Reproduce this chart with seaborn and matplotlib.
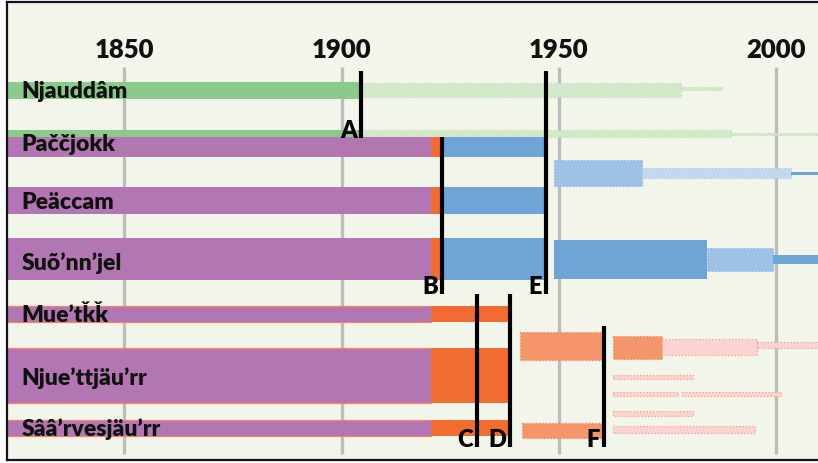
import matplotlib
matplotlib.use("Agg")
import matplotlib.pyplot as plt
import seaborn as sns
import pandas as pd

# siida names (row labels)
rows = ["Njauddâm", "Paččjokk", "Peäccam", "Suõ’nn’jel",
        "Mue’tǩǩ", "Njue’ttjäu’rr", "Sââ’rvesjäu’rr"]
row_baseline = [98, 151, 209, 270, 322, 385, 436]

years_ticks = [1850, 1900, 1950, 2000]

# event lines A-F
events = ["A", "B", "C", "D", "E", "F"]
event_year = [1904.5, 1923.1, 1931.1, 1938.7, 1947.0, 1960.3]
event_top = [72, 138, 295, 295, 72, 327]
event_bottom = [139, 295, 448, 448, 295, 448]

# bar segments: start year, end year, kind
seg_start = [1820, 1904.5, 1978.0,
             1820, 1904.5, 1989.6,
             1820, 1920.6, 1923.0, 1948.9, 1969.1, 2003.4,
             1820, 1920.6, 1923.0,
             1820, 1920.6, 1923.0, 1948.9, 1984.0, 1999.2,
             1820, 1920.6,
             1820, 1920.6,
             1820, 1920.6,
             1941.0, 1962.4, 1973.7, 1995.5,
             1962.4, 1962.4, 1978.3, 1962.4, 1962.4, 1941.5]
seg_end = [1904.5, 1978.0, 1987.5,
           1904.5, 1989.6, 2015,
           1920.6, 1923.0, 1946.8, 1969.1, 2003.4, 2015,
           1920.6, 1923.0, 1946.8,
           1920.6, 1923.0, 1946.8, 1984.0, 1999.2, 2015,
           1920.6, 1938.2,
           1920.6, 1938.2,
           1920.6, 1938.2,
           1959.9, 1973.7, 1995.5, 2015,
           1980.8, 1977.3, 2001.0, 1980.8, 1995.0, 1959.9]
seg_kind = ["green", "pale_green", "pale_green",
            "green", "pale_green", "pale_green",
            "purple", "orange", "blue", "pale_blue", "paler_blue", "blue",
            "purple", "orange", "blue",
            "purple", "orange", "blue", "blue", "pale_blue", "blue",
            "purple_s", "orange",
            "purple_s", "orange",
            "purple_s", "orange",
            "salmon", "salmon", "pink", "pink",
            "pink", "pink", "pink", "pink", "pink", "salmon"]

# vertical layout of each segment (centre, thickness) in picture units
seg_y = [91.5, 91, 89.5,
         134.5, 134.5, 135,
         148, 148, 148, 174, 174, 174.5,
         201, 201, 201,
         260, 260, 260, 260.5, 260.5, 260.5,
         315, 315,
         376.5, 376.5,
         429, 429,
         347, 348.5, 348, 346,
         378, 395, 395, 414.5, 430.5, 431.5]
seg_h = [17, 14, 3,
         7, 7, 2,
         20, 20, 20, 26, 10, 3,
         27, 27, 27,
         42, 42, 42, 39, 23, 9,
         16, 16,
         55, 55,
         16, 16,
         28, 23, 16, 6,
         4, 4, 4, 5, 7, 15]

colors = {
    "green": ("#8CC98D", "none", "-"),
    "pale_green": ("#D3E9CA", "#BFDDB5", ":"),
    "purple": ("#B277B3", "none", "-"),
    "purple_s": ("#B277B3", "#F2836A", "-"),
    "orange": ("#F26C32", "none", "-"),
    "blue": ("#6FA4D7", "none", "-"),
    "pale_blue": ("#9EC1E6", "#8DB5E0", ":"),
    "paler_blue": ("#C2D8EF", "#A9C8E8", ":"),
    "salmon": ("#F5956B", "#F28A60", ":"),
    "pink": ("#F9D4D2", "#F4A184", ":"),
}

df = pd.DataFrame({"start": seg_start, "end": seg_end, "kind": seg_kind,
                   "y": seg_y, "h": seg_h})

sns.set_theme(style="white")
plt.rcParams["font.family"] = ["Lato", "DejaVu Sans"]

fig = plt.figure(figsize=(8.18, 4.64), dpi=100)
ax = fig.add_axes([7 / 818, 3 / 464, 811 / 818, 458 / 464])
ax.set_facecolor("#F2F6EA")
fig.patch.set_facecolor("white")

px_per_year = 4.347
x_left = 1925 + (7 - 450.25) / px_per_year
x_right = 1925 + (818 - 450.25) / px_per_year
ax.set_xlim(x_left, x_right)
ax.set_ylim(461, 3)

# gridlines and year labels
for yr in years_ticks:
    ax.plot([yr, yr], [68, 455], color="#BDBDBD", lw=2.4, zorder=1,
            solid_capstyle="butt")
    ax.text(yr, 50, str(yr), ha="center", va="center", fontsize=18.5,
            fontweight="heavy", color="#111111")

for _, r in df.iterrows():
    fc, ec, ls = colors[r["kind"]]
    ax.barh(r["y"], r["end"] - r["start"], left=r["start"], height=r["h"],
            color=fc, edgecolor=ec, linestyle=ls,
            linewidth=0.9 if ec != "none" else 0, zorder=2)

for name, yb in zip(rows, row_baseline):
    ax.text(1826.3, yb, name, ha="left", va="baseline", fontsize=16.5,
            fontweight="heavy", color="#111111", zorder=5)

for lab, yr, top, bot in zip(events, event_year, event_top, event_bottom):
    ax.plot([yr, yr], [top, bot], color="black", lw=3, zorder=4,
            solid_capstyle="butt")
    ax.text(yr - 0.9, bot - 1, lab, ha="right", va="baseline", fontsize=17,
            fontweight="heavy", color="black", zorder=5)

ax.set_xticks([])
ax.set_yticks([])
for side in ["left", "top", "bottom"]:
    ax.spines[side].set_color("#111122")
    ax.spines[side].set_linewidth(1.6)
ax.spines["right"].set_visible(False)

fig.savefig("out.png", dpi=100)
